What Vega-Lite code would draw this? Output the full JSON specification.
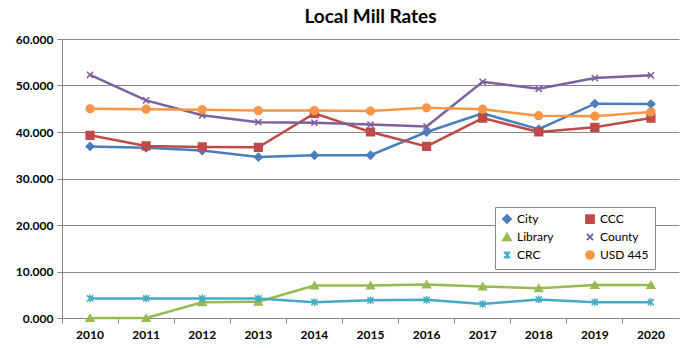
{
  "$schema": "https://vega.github.io/schema/vega-lite/v6.json",
  "autosize": {"type": "fit", "contains": "padding"},
  "width": 698,
  "height": 348,
  "padding": {"left": 15, "top": 8, "right": 19, "bottom": 8},
  "background": "white",
  "title": {"text": "Local Mill Rates", "font": "Lato", "fontSize": 19, "fontWeight": "bold", "color": "#000000", "offset": 6},
  "config": {
    "view": {"stroke": null},
    "axis": {"labelFont": "Lato", "labelFontWeight": "bold", "labelFontSize": 12, "labelColor": "#000000", "title": null, "domainColor": "#868686", "tickColor": "#868686", "gridColor": "#868686"}
  },
  "data": {"values": [
    {"year": "2010", "series": "City", "value": 36.9},
    {"year": "2011", "series": "City", "value": 36.6},
    {"year": "2012", "series": "City", "value": 36.0},
    {"year": "2013", "series": "City", "value": 34.6},
    {"year": "2014", "series": "City", "value": 35.0},
    {"year": "2015", "series": "City", "value": 35.0},
    {"year": "2016", "series": "City", "value": 40.0},
    {"year": "2017", "series": "City", "value": 44.0},
    {"year": "2018", "series": "City", "value": 40.6},
    {"year": "2019", "series": "City", "value": 46.1},
    {"year": "2020", "series": "City", "value": 46.0},
    {"year": "2010", "series": "CCC", "value": 39.3},
    {"year": "2011", "series": "CCC", "value": 37.0},
    {"year": "2012", "series": "CCC", "value": 36.8},
    {"year": "2013", "series": "CCC", "value": 36.7},
    {"year": "2014", "series": "CCC", "value": 44.0},
    {"year": "2015", "series": "CCC", "value": 40.0},
    {"year": "2016", "series": "CCC", "value": 36.9},
    {"year": "2017", "series": "CCC", "value": 43.0},
    {"year": "2018", "series": "CCC", "value": 40.0},
    {"year": "2019", "series": "CCC", "value": 41.0},
    {"year": "2020", "series": "CCC", "value": 43.0},
    {"year": "2010", "series": "Library", "value": 0.0},
    {"year": "2011", "series": "Library", "value": 0.0},
    {"year": "2012", "series": "Library", "value": 3.4},
    {"year": "2013", "series": "Library", "value": 3.5},
    {"year": "2014", "series": "Library", "value": 7.0},
    {"year": "2015", "series": "Library", "value": 7.0},
    {"year": "2016", "series": "Library", "value": 7.2},
    {"year": "2017", "series": "Library", "value": 6.8},
    {"year": "2018", "series": "Library", "value": 6.4},
    {"year": "2019", "series": "Library", "value": 7.1},
    {"year": "2020", "series": "Library", "value": 7.1},
    {"year": "2010", "series": "County", "value": 52.3},
    {"year": "2011", "series": "County", "value": 46.8},
    {"year": "2012", "series": "County", "value": 43.6},
    {"year": "2013", "series": "County", "value": 42.1},
    {"year": "2014", "series": "County", "value": 42.0},
    {"year": "2015", "series": "County", "value": 41.6},
    {"year": "2016", "series": "County", "value": 41.2},
    {"year": "2017", "series": "County", "value": 50.8},
    {"year": "2018", "series": "County", "value": 49.3},
    {"year": "2019", "series": "County", "value": 51.6},
    {"year": "2020", "series": "County", "value": 52.2},
    {"year": "2010", "series": "CRC", "value": 4.2},
    {"year": "2011", "series": "CRC", "value": 4.2},
    {"year": "2012", "series": "CRC", "value": 4.2},
    {"year": "2013", "series": "CRC", "value": 4.2},
    {"year": "2014", "series": "CRC", "value": 3.4},
    {"year": "2015", "series": "CRC", "value": 3.8},
    {"year": "2016", "series": "CRC", "value": 3.9},
    {"year": "2017", "series": "CRC", "value": 3.0},
    {"year": "2018", "series": "CRC", "value": 4.0},
    {"year": "2019", "series": "CRC", "value": 3.4},
    {"year": "2020", "series": "CRC", "value": 3.4},
    {"year": "2010", "series": "USD 445", "value": 45.0},
    {"year": "2011", "series": "USD 445", "value": 44.9},
    {"year": "2012", "series": "USD 445", "value": 44.8},
    {"year": "2013", "series": "USD 445", "value": 44.6},
    {"year": "2014", "series": "USD 445", "value": 44.6},
    {"year": "2015", "series": "USD 445", "value": 44.5},
    {"year": "2016", "series": "USD 445", "value": 45.2},
    {"year": "2017", "series": "USD 445", "value": 44.9},
    {"year": "2018", "series": "USD 445", "value": 43.5},
    {"year": "2019", "series": "USD 445", "value": 43.4},
    {"year": "2020", "series": "USD 445", "value": 44.3}
  ]},
  "encoding": {
    "x": {"field": "year", "type": "ordinal", "scale": {"type": "band", "paddingInner": 0, "paddingOuter": 0},
      "axis": {"labelAngle": 0, "bandPosition": 0, "grid": false, "tickSize": 5, "labelPadding": 6, "domainColor": "#868686"}},
    "y": {"field": "value", "type": "quantitative", "scale": {"domain": [0, 60]},
      "axis": {"values": [0, 10, 20, 30, 40, 50, 60], "format": ".3f", "tickSize": 5, "labelPadding": 4, "grid": true, "domain": true}},
    "color": {"field": "series", "type": "nominal",
      "scale": {"domain": ["City", "CCC", "Library", "County", "CRC", "USD 445"], "range": ["#4A7EBB", "#BE4B48", "#98B954", "#7D60A0", "#46AAC5", "#F79646"]},
      "legend": {"orient": "none", "direction": "horizontal", "legendX": 433, "legendY": 168, "columns": 2, "title": null, "fillColor": "white", "strokeColor": "#888888", "padding": 6, "columnPadding": 28, "rowPadding": 2, "labelFont": "Lato", "labelFontSize": 12, "labelColor": "#000000", "symbolSize": 60, "symbolStrokeWidth": 2}}
  },
  "layer": [
    {"mark": {"type": "line", "strokeWidth": 2.5}},
    {"mark": {"type": "point", "filled": true, "size": 60, "opacity": 1, "strokeWidth": 1.5},
      "encoding": {
        "shape": {"field": "series", "type": "nominal",
          "scale": {"domain": ["City", "CCC", "Library", "County", "CRC", "USD 445"], "range": ["diamond", "square", "triangle-up", "M-0.8,-0.8L0.8,0.8M-0.8,0.8L0.8,-0.8", "M-0.8,-0.8L0.8,0.8M-0.8,0.8L0.8,-0.8M0,-1L0,1", "circle"]}},
        "stroke": {"field": "series", "type": "nominal", "legend": null,
          "scale": {"domain": ["City", "CCC", "Library", "County", "CRC", "USD 445"], "range": ["#4A7EBB", "#BE4B48", "#98B954", "#7D60A0", "#46AAC5", "#F79646"]}}
      }}
  ]
}
